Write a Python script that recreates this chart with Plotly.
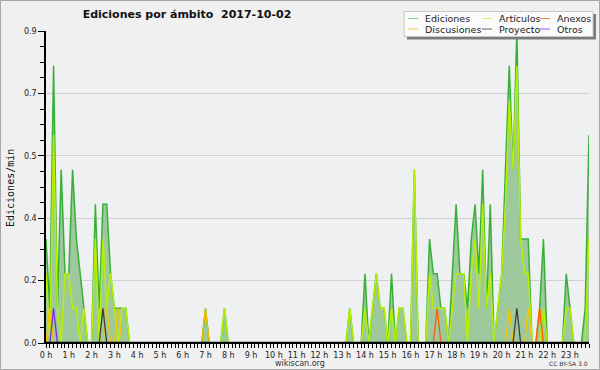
import plotly.graph_objects as go

# 10-minute bins over the day (minutes since midnight)
bin_minutes = list(range(0, 1440, 10))

# values (ediciones / min), one row per hour (6 bins)
ediciones = [
    0.3, 0.1, 0.8, 0.1, 0.5, 0.2,   # 0h
    0.2, 0.5, 0.3, 0.2, 0.1, 0.0,   # 1h
    0.0, 0.4, 0.1, 0.4, 0.4, 0.2,   # 2h
    0.1, 0.1, 0.1, 0.1, 0.0, 0.0,   # 3h
    0.0, 0.0, 0.0, 0.0, 0.0, 0.0,   # 4h
    0.0, 0.0, 0.0, 0.0, 0.0, 0.0,   # 5h
    0.0, 0.0, 0.0, 0.0, 0.0, 0.0,   # 6h
    0.1, 0.0, 0.0, 0.0, 0.0, 0.1,   # 7h
    0.0, 0.0, 0.0, 0.0, 0.0, 0.0,   # 8h
    0.0, 0.0, 0.0, 0.0, 0.0, 0.0,   # 9h
    0.0, 0.0, 0.0, 0.0, 0.0, 0.0,   # 10h
    0.0, 0.0, 0.0, 0.0, 0.0, 0.0,   # 11h
    0.0, 0.0, 0.0, 0.0, 0.0, 0.0,   # 12h
    0.0, 0.0, 0.1, 0.0, 0.0, 0.0,   # 13h
    0.2, 0.0, 0.1, 0.2, 0.1, 0.1,   # 14h
    0.0, 0.2, 0.0, 0.1, 0.1, 0.0,   # 15h
    0.0, 0.5, 0.0, 0.0, 0.0, 0.3,   # 16h
    0.2, 0.2, 0.1, 0.1, 0.0, 0.2,   # 17h
    0.4, 0.2, 0.2, 0.1, 0.3, 0.4,   # 18h
    0.2, 0.5, 0.1, 0.4, 0.0, 0.1,   # 19h
    0.2, 0.5, 0.8, 0.5, 0.9, 0.3,   # 20h
    0.3, 0.3, 0.0, 0.0, 0.1, 0.3,   # 21h
    0.0, 0.0, 0.0, 0.0, 0.0, 0.2,   # 22h
    0.1, 0.0, 0.0, 0.0, 0.1, 0.6,   # 23h
]

articulos = [
    0.2, 0.0, 0.6, 0.1, 0.0, 0.2,   # 0h
    0.2, 0.1, 0.1, 0.0, 0.1, 0.0,   # 1h
    0.0, 0.3, 0.0, 0.3, 0.1, 0.2,   # 2h
    0.1, 0.0, 0.1, 0.1, 0.0, 0.0,   # 3h
    0.0, 0.0, 0.0, 0.0, 0.0, 0.0,   # 4h
    0.0, 0.0, 0.0, 0.0, 0.0, 0.0,   # 5h
    0.0, 0.0, 0.0, 0.0, 0.0, 0.0,   # 6h
    0.0, 0.0, 0.0, 0.0, 0.0, 0.1,   # 7h
    0.0, 0.0, 0.0, 0.0, 0.0, 0.0,   # 8h
    0.0, 0.0, 0.0, 0.0, 0.0, 0.0,   # 9h
    0.0, 0.0, 0.0, 0.0, 0.0, 0.0,   # 10h
    0.0, 0.0, 0.0, 0.0, 0.0, 0.0,   # 11h
    0.0, 0.0, 0.0, 0.0, 0.0, 0.0,   # 12h
    0.0, 0.0, 0.1, 0.0, 0.0, 0.0,   # 13h
    0.1, 0.0, 0.1, 0.2, 0.1, 0.1,   # 14h
    0.0, 0.1, 0.0, 0.1, 0.1, 0.0,   # 15h
    0.0, 0.5, 0.0, 0.0, 0.0, 0.2,   # 16h
    0.1, 0.1, 0.1, 0.1, 0.0, 0.1,   # 17h
    0.2, 0.2, 0.2, 0.0, 0.2, 0.3,   # 18h
    0.1, 0.4, 0.1, 0.2, 0.0, 0.1,   # 19h
    0.2, 0.4, 0.7, 0.5, 0.8, 0.3,   # 20h
    0.2, 0.2, 0.0, 0.0, 0.0, 0.1,   # 21h
    0.0, 0.0, 0.0, 0.0, 0.0, 0.1,   # 22h
    0.1, 0.0, 0.0, 0.0, 0.0, 0.3,   # 23h
]

discusiones = [
    0.0, 0.1, 0.0, 0.0, 0.0, 0.0,   # 0h
    0.0, 0.0, 0.0, 0.0, 0.0, 0.0,   # 1h
    0.0, 0.0, 0.0, 0.0, 0.1, 0.0,   # 2h
    0.0, 0.1, 0.0, 0.0, 0.0, 0.0,   # 3h
    0.0, 0.0, 0.0, 0.0, 0.0, 0.0,   # 4h
    0.0, 0.0, 0.0, 0.0, 0.0, 0.0,   # 5h
    0.0, 0.0, 0.0, 0.0, 0.0, 0.0,   # 6h
    0.1, 0.0, 0.0, 0.0, 0.0, 0.0,   # 7h
    0.0, 0.0, 0.0, 0.0, 0.0, 0.0,   # 8h
    0.0, 0.0, 0.0, 0.0, 0.0, 0.0,   # 9h
    0.0, 0.0, 0.0, 0.0, 0.0, 0.0,   # 10h
    0.0, 0.0, 0.0, 0.0, 0.0, 0.0,   # 11h
    0.0, 0.0, 0.0, 0.0, 0.0, 0.0,   # 12h
    0.0, 0.0, 0.0, 0.0, 0.0, 0.0,   # 13h
    0.0, 0.0, 0.0, 0.0, 0.0, 0.0,   # 14h
    0.0, 0.0, 0.0, 0.0, 0.0, 0.0,   # 15h
    0.0, 0.0, 0.0, 0.0, 0.0, 0.0,   # 16h
    0.0, 0.0, 0.0, 0.0, 0.0, 0.0,   # 17h
    0.0, 0.0, 0.0, 0.0, 0.0, 0.0,   # 18h
    0.0, 0.0, 0.0, 0.0, 0.0, 0.0,   # 19h
    0.0, 0.0, 0.1, 0.0, 0.0, 0.0,   # 20h
    0.0, 0.1, 0.0, 0.0, 0.1, 0.0,   # 21h
    0.0, 0.0, 0.0, 0.0, 0.0, 0.0,   # 22h
    0.0, 0.0, 0.0, 0.0, 0.0, 0.0,   # 23h
]

anexos = [
    0.0, 0.0, 0.0, 0.0, 0.0, 0.0,   # 0h
    0.0, 0.0, 0.0, 0.0, 0.0, 0.0,   # 1h
    0.0, 0.0, 0.0, 0.0, 0.0, 0.0,   # 2h
    0.0, 0.0, 0.0, 0.0, 0.0, 0.0,   # 3h
    0.0, 0.0, 0.0, 0.0, 0.0, 0.0,   # 4h
    0.0, 0.0, 0.0, 0.0, 0.0, 0.0,   # 5h
    0.0, 0.0, 0.0, 0.0, 0.0, 0.0,   # 6h
    0.0, 0.0, 0.0, 0.0, 0.0, 0.0,   # 7h
    0.0, 0.0, 0.0, 0.0, 0.0, 0.0,   # 8h
    0.0, 0.0, 0.0, 0.0, 0.0, 0.0,   # 9h
    0.0, 0.0, 0.0, 0.0, 0.0, 0.0,   # 10h
    0.0, 0.0, 0.0, 0.0, 0.0, 0.0,   # 11h
    0.0, 0.0, 0.0, 0.0, 0.0, 0.0,   # 12h
    0.0, 0.0, 0.0, 0.0, 0.0, 0.0,   # 13h
    0.0, 0.0, 0.0, 0.0, 0.0, 0.0,   # 14h
    0.0, 0.0, 0.0, 0.0, 0.0, 0.0,   # 15h
    0.0, 0.0, 0.0, 0.0, 0.0, 0.0,   # 16h
    0.0, 0.1, 0.0, 0.0, 0.0, 0.0,   # 17h
    0.0, 0.0, 0.0, 0.0, 0.0, 0.0,   # 18h
    0.0, 0.0, 0.0, 0.0, 0.0, 0.0,   # 19h
    0.0, 0.0, 0.0, 0.0, 0.0, 0.0,   # 20h
    0.0, 0.0, 0.0, 0.0, 0.1, 0.0,   # 21h
    0.0, 0.0, 0.0, 0.0, 0.0, 0.0,   # 22h
    0.0, 0.0, 0.0, 0.0, 0.0, 0.0,   # 23h
]

proyecto = [
    0.0, 0.0, 0.0, 0.0, 0.0, 0.0,   # 0h
    0.0, 0.0, 0.0, 0.0, 0.0, 0.0,   # 1h
    0.0, 0.0, 0.0, 0.1, 0.0, 0.0,   # 2h
    0.0, 0.0, 0.0, 0.0, 0.0, 0.0,   # 3h
    0.0, 0.0, 0.0, 0.0, 0.0, 0.0,   # 4h
    0.0, 0.0, 0.0, 0.0, 0.0, 0.0,   # 5h
    0.0, 0.0, 0.0, 0.0, 0.0, 0.0,   # 6h
    0.0, 0.0, 0.0, 0.0, 0.0, 0.0,   # 7h
    0.0, 0.0, 0.0, 0.0, 0.0, 0.0,   # 8h
    0.0, 0.0, 0.0, 0.0, 0.0, 0.0,   # 9h
    0.0, 0.0, 0.0, 0.0, 0.0, 0.0,   # 10h
    0.0, 0.0, 0.0, 0.0, 0.0, 0.0,   # 11h
    0.0, 0.0, 0.0, 0.0, 0.0, 0.0,   # 12h
    0.0, 0.0, 0.0, 0.0, 0.0, 0.0,   # 13h
    0.0, 0.0, 0.0, 0.0, 0.0, 0.0,   # 14h
    0.0, 0.0, 0.0, 0.0, 0.0, 0.0,   # 15h
    0.0, 0.0, 0.0, 0.0, 0.0, 0.0,   # 16h
    0.0, 0.0, 0.0, 0.0, 0.0, 0.0,   # 17h
    0.0, 0.0, 0.0, 0.0, 0.0, 0.0,   # 18h
    0.0, 0.0, 0.0, 0.0, 0.0, 0.0,   # 19h
    0.0, 0.0, 0.0, 0.0, 0.1, 0.0,   # 20h
    0.0, 0.0, 0.0, 0.0, 0.0, 0.0,   # 21h
    0.0, 0.0, 0.0, 0.0, 0.0, 0.0,   # 22h
    0.0, 0.0, 0.0, 0.0, 0.0, 0.0,   # 23h
]

otros = [
    0.0, 0.0, 0.1, 0.0, 0.0, 0.0,   # 0h
    0.0, 0.0, 0.0, 0.0, 0.0, 0.0,   # 1h
    0.0, 0.0, 0.0, 0.0, 0.0, 0.0,   # 2h
    0.0, 0.0, 0.0, 0.0, 0.0, 0.0,   # 3h
    0.0, 0.0, 0.0, 0.0, 0.0, 0.0,   # 4h
    0.0, 0.0, 0.0, 0.0, 0.0, 0.0,   # 5h
    0.0, 0.0, 0.0, 0.0, 0.0, 0.0,   # 6h
    0.0, 0.0, 0.0, 0.0, 0.0, 0.0,   # 7h
    0.0, 0.0, 0.0, 0.0, 0.0, 0.0,   # 8h
    0.0, 0.0, 0.0, 0.0, 0.0, 0.0,   # 9h
    0.0, 0.0, 0.0, 0.0, 0.0, 0.0,   # 10h
    0.0, 0.0, 0.0, 0.0, 0.0, 0.0,   # 11h
    0.0, 0.0, 0.0, 0.0, 0.0, 0.0,   # 12h
    0.0, 0.0, 0.0, 0.0, 0.0, 0.0,   # 13h
    0.0, 0.0, 0.0, 0.0, 0.0, 0.0,   # 14h
    0.0, 0.0, 0.0, 0.0, 0.0, 0.0,   # 15h
    0.0, 0.0, 0.0, 0.0, 0.0, 0.0,   # 16h
    0.0, 0.0, 0.0, 0.0, 0.0, 0.0,   # 17h
    0.0, 0.0, 0.0, 0.0, 0.0, 0.0,   # 18h
    0.0, 0.0, 0.0, 0.0, 0.0, 0.0,   # 19h
    0.0, 0.0, 0.0, 0.0, 0.0, 0.0,   # 20h
    0.0, 0.0, 0.0, 0.0, 0.0, 0.0,   # 21h
    0.0, 0.0, 0.0, 0.0, 0.0, 0.0,   # 22h
    0.0, 0.0, 0.0, 0.0, 0.0, 0.0,   # 23h
]

y_tick_vals = [0.0, 0.18, 0.36, 0.54, 0.72, 0.9]
y_tick_text = ["0.0", "0.2", "0.4", "0.5", "0.7", "0.9"]
x_tick_hours = list(range(24))
x_tick_text = [f"{h} h" for h in x_tick_hours]

series_names = ["Ediciones", "Artículos", "Anexos", "Discusiones", "Proyecto", "Otros"]
series_colors = {
    "Ediciones": "#38b038",
    "Artículos": "#b8f000",
    "Anexos": "#ff5a10",
    "Discusiones": "#f5c400",
    "Proyecto": "#3c3c3c",
    "Otros": "#7a2ee0",
}
legend_colors = {
    "Ediciones": "#86cf86",
    "Artículos": "#d2f070",
    "Anexos": "#f08050",
    "Discusiones": "#f5d050",
    "Proyecto": "#606060",
    "Otros": "#9050f0",
}

x_hours = [m / 60 for m in bin_minutes]

fig = go.Figure()
fig.add_trace(go.Scatter(
    x=x_hours, y=ediciones, name="Ediciones", mode="lines",
    line=dict(color=series_colors["Ediciones"], width=1.5),
    fill="tozeroy", fillcolor="#9dc99d", showlegend=False))
for name, vals in [("Artículos", articulos), ("Discusiones", discusiones),
                   ("Anexos", anexos), ("Proyecto", proyecto), ("Otros", otros)]:
    fig.add_trace(go.Scatter(
        x=x_hours, y=vals, name=name, mode="lines",
        line=dict(color=series_colors[name], width=1.5 if name == "Artículos" else 1.3),
        showlegend=False))

# pixel helpers (plot area: x 46..589, y 31..343)
L, R, T, B = 46, 589, 31, 343
def px(x):
    return (x - L) / (R - L)
def py(y):
    return (B - y) / (B - T)

shapes = []
annotations = []
# outer frame
shapes.append(dict(type="rect", xref="paper", yref="paper",
                   x0=px(0.5), x1=px(599.5), y0=py(0.5), y1=py(369.5),
                   line=dict(color="#a8a8a8", width=1), layer="below"))
# baseline drawn over the zero-valued parts of the series
shapes.append(dict(type="line", xref="x", yref="y", x0=0, x1=bin_minutes[-1] / 60, y0=0, y1=0,
                   line=dict(color="#000", width=2.4), layer="above"))
# legend box with shadow
shapes.append(dict(type="rect", xref="paper", yref="paper",
                   x0=px(407), x1=px(596), y0=py(14), y1=py(39.5),
                   line=dict(width=0), fillcolor="#7a7a7a", layer="above"))
shapes.append(dict(type="rect", xref="paper", yref="paper",
                   x0=px(404), x1=px(593), y0=py(11.5), y1=py(36.5),
                   line=dict(color="#c8c8c8", width=1), fillcolor="#fbfbfb", layer="above"))
col_x = [408, 482, 540]
row_y = [18.5, 29]
for k, name in enumerate(series_names):
    r, c = divmod(k, 3)
    sx = col_x[c]
    sy = row_y[r]
    shapes.append(dict(type="line", xref="paper", yref="paper",
                       x0=px(sx), x1=px(sx + 10), y0=py(sy), y1=py(sy),
                       line=dict(color=legend_colors[name], width=1), layer="above"))
    annotations.append(dict(xref="paper", yref="paper", x=px(sx + 15), y=py(sy),
                            xanchor="left", yanchor="middle", showarrow=False,
                            text=name, font=dict(family="DejaVu Sans", size=9.5, color="#222")))

annotations.append(dict(xref="paper", yref="paper", x=px(300), y=py(363.5),
                        xanchor="center", yanchor="middle", showarrow=False,
                        text="wikiscan.org", font=dict(family="DejaVu Sans", size=8, color="#333")))
annotations.append(dict(xref="paper", yref="paper", x=px(590), y=py(363),
                        xanchor="right", yanchor="middle", showarrow=False,
                        text="CC BY-SA 3.0", font=dict(family="DejaVu Sans", size=6, color="#333")))
annotations.append(dict(xref="paper", yref="paper", x=px(10), y=py(188),
                        xanchor="center", yanchor="middle", showarrow=False, textangle=-90,
                        text="Ediciones/min", font=dict(family="DejaVu Sans Mono", size=10, color="#111")))

fig.update_layout(
    width=600, height=370,
    margin=dict(l=L, r=600 - R, t=T, b=370 - B, pad=0),
    paper_bgcolor="#f0f0f0", plot_bgcolor="#eef0f2",
    title=dict(text="Ediciones por ámbito&nbsp; 2017-10-02", x=187 / 600, xanchor="center",
               y=1 - 14.5 / 370, yanchor="middle",
               font=dict(family="DejaVu Sans", size=11, color="#111", weight="bold")),
    shapes=shapes, annotations=annotations, showlegend=False,
    xaxis=dict(range=[0, bin_minutes[-1] / 60], tickvals=x_tick_hours, ticktext=x_tick_text,
               ticks="outside", ticklen=4, tickwidth=1, tickcolor="#000",
               showline=True, linecolor="#000", linewidth=1, showgrid=False, zeroline=False,
               tickfont=dict(family="DejaVu Sans", size=8, color="#222"),
               minor=dict(dtick=1 / 6, ticks="outside", ticklen=4, tickcolor="#000", tickwidth=1, showgrid=False)),
    yaxis=dict(range=[0, 0.9], tickvals=y_tick_vals, ticktext=y_tick_text,
               ticks="outside", ticklen=6, tickwidth=1, tickcolor="#000",
               showline=True, linecolor="#000", linewidth=1.5, showgrid=True,
               gridcolor="#d0d0d0", gridwidth=1, zeroline=False,
               tickfont=dict(family="DejaVu Sans", size=8, color="#222"),
               minor=dict(tick0=0, dtick=0.045, ticks="outside", ticklen=4, tickcolor="#000", tickwidth=1, showgrid=False)),
)

fig.write_html("out.html", config={"displayModeBar": False},
               post_script="document.body.style.margin='0';document.body.style.overflow='hidden';")
